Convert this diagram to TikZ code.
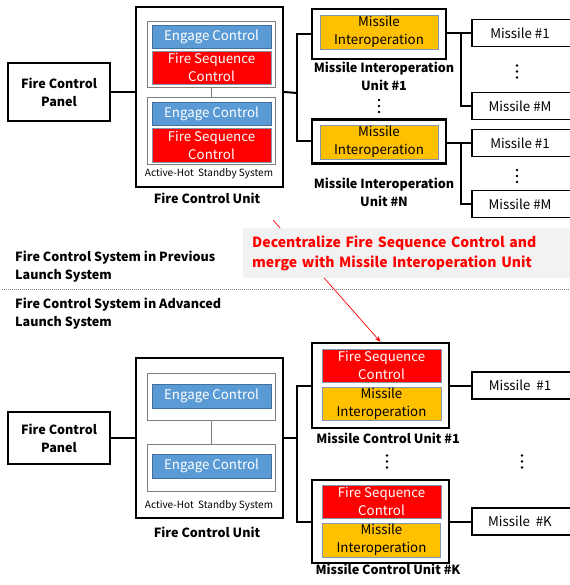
\documentclass[tikz,border=0pt]{standalone}
\usepackage{fontspec}
\setmainfont{Noto Sans CJK KR}
\usetikzlibrary{arrows.meta}

\definecolor{ecblue}{HTML}{5B9BD5}
\definecolor{fsred}{HTML}{FF0000}
\definecolor{miyellow}{HTML}{FFC000}
\definecolor{edgeblue}{HTML}{41719C}
\definecolor{edgegray}{HTML}{8497B0}
\definecolor{notegray}{HTML}{F2F2F2}
\definecolor{framegray}{HTML}{7F7F7F}

\newcommand\ftbody{\fontsize{13.3pt}{18pt}\selectfont}
\newcommand\ftlabel{\fontsize{12.6pt}{18pt}\selectfont\bfseries}
\newcommand\ftsmall{\fontsize{10pt}{12pt}\selectfont}
\newcommand\ftnote{\fontsize{14pt}{20pt}\selectfont\bfseries}

\begin{document}
\begin{tikzpicture}[x=1pt,y=-1pt,
  size/.style n args={2}{minimum width=#1,minimum height=#2},
  unitbox/.style={draw=black,line width=2.2pt,fill=white,inner sep=0pt},
  panelbox/.style={unitbox,line width=2pt,align=center,font=\ftlabel},
  pairbox/.style={draw=framegray,line width=0.9pt,fill=white,inner sep=0pt,size={128pt}{66pt}},
  engage/.style={fill=ecblue,draw=edgeblue,line width=0.5pt,text=white,font=\ftbody,inner sep=0pt,size={119pt}{23pt}},
  fireseq/.style={fill=fsred,draw=edgegray,line width=0.5pt,text=white,font=\ftbody,align=center,inner sep=0pt,size={119pt}{33pt}},
  interop/.style={fill=miyellow,draw=edgegray,line width=0.5pt,text=black,font=\ftbody,align=center,inner sep=0pt,size={118pt}{34pt}},
  missilebox/.style={draw=black,line width=1.8pt,fill=white,font=\ftbody,inner sep=0pt,size={100pt}{27pt}},
  caption/.style={font=\ftlabel,align=center,inner sep=0pt},
  conn/.style={draw=black,line width=2pt},
  vdot/.style={fill=black},
]
\useasboundingbox (0,0) rectangle (569,585);
\fill[white] (0,0) rectangle (569,585);

% ---------------- previous launch system ----------------
\node[panelbox,size={102pt}{58pt}] (panelA) at (59,92) {Fire Control\\Panel};
\node[unitbox,size={147pt}{180pt}] (fcuA) at (209.5,97) {};
\node[pairbox] (pairA1) at (211,54) {};
\node[engage] (ecA1) at (211.5,36.5) {Engage Control};
\node[fireseq] (fsA1) at (211.5,67.5) {Fire Sequence\\Control};
\node[pairbox,size={128pt}{67pt}] (pairA2) at (211,130.5) {};
\node[engage] (ecA2) at (211.5,113.5) {Engage Control};
\node[fireseq,size={119pt}{34pt}] (fsA2) at (211.5,145) {Fire Sequence\\Control};
\draw[draw=framegray,line width=0.9pt] (pairA1.south) -- (pairA2.north);
\node[font=\ftsmall,inner sep=0pt] (hsA) at (209,174) {Active-Hot\ \ Standby\ System};
\node[caption] (fcuAlbl) at (207,198) {Fire Control Unit};

\node[unitbox,line width=2.6pt,size={134pt}{50pt}] (miu1) at (379,34) {};
\node[interop] (mi1) at (379,32) {Missile\\Interoperation};
\node[caption] (miu1lbl) at (384,76) {Missile Interoperation\\Unit \#1};
\node[unitbox,size={134pt}{44pt}] (miuN) at (379,141.5) {};
\node[interop] (miN) at (379,142) {Missile\\Interoperation};
\node[caption] (miuNlbl) at (384,192.5) {Missile Interoperation\\Unit \#N};

\node[missilebox] (m1a) at (522,33) {\hspace*{-4pt}Missile \#1};
\node[missilebox] (mMa) at (522,106) {\hspace*{-4pt}Missile \#M};
\node[missilebox] (m1b) at (522,143) {\hspace*{-4pt}Missile \#1};
\node[missilebox] (mMb) at (522,204) {\hspace*{-4pt}Missile \#M};

\coordinate (brA) at (297,93);
\coordinate (brB) at (461,33);
\coordinate (brN) at (461,143);
\draw[conn] (panelA.east) -- (panelA.east -| fcuA.west);
\draw[conn] (panelA.east -| fcuA.east) -- (brA);
\draw[conn] (miu1.west) -| (brA) |- (miuN.west);
\draw[conn] (miu1.east |- brB) -- (m1a.west);
\draw[conn] (brB) |- (mMa.west);
\draw[conn] (miuN.east |- brN) -- (m1b.west);
\draw[conn] (brN) |- (mMb.west);

\foreach \px/\py in {379/106, 517/71.5, 517/176}
  \foreach \dy in {-6,0,6}
    \fill[vdot] (\px,\py+\dy) circle (1.3);

% ---------------- divider and notes ----------------
\node[font=\ftlabel,align=left,anchor=west,inner sep=0pt] (prevtxt) at (15,266.5)
  {Fire Control System in Previous\\Launch System};
\node[font=\ftlabel,align=left,anchor=west,inner sep=0pt] (advtxt) at (15,313.5)
  {Fire Control System in Advanced\\Launch System};
\coordinate (divL) at (2,289);
\coordinate (divR) at (569,289);
\draw[framegray,line width=0.8pt,dash pattern=on 1.2pt off 0.8pt] (divL) -- (divR);

% ---------------- advanced launch system ----------------
\node[panelbox,size={102pt}{52pt}] (panelB) at (59,438) {Fire Control\\Panel};
\node[unitbox,size={147pt}{160pt}] (fcuB) at (209.5,438) {};
\node[pairbox,size={128pt}{47pt}] (pairB1) at (211,396.5) {};
\node[engage,size={119pt}{24pt}] (ecB1) at (211.5,396) {Engage Control};
\node[pairbox,size={128pt}{47pt}] (pairB2) at (211,467.5) {};
\node[engage,size={119pt}{24pt}] (ecB2) at (211.5,466) {Engage Control};
\draw[draw=framegray,line width=0.9pt] (pairB1.south) -- (pairB2.north);
\node[font=\ftsmall,inner sep=0pt] (hsB) at (209,506) {Active-Hot\ \ Standby\ System};
\node[caption] (fcuBlbl) at (207,532) {Fire Control Unit};

\node[unitbox,size={137pt}{85pt}] (mcu1) at (380.5,385.5) {};
\node[fireseq] (fsC1) at (381.5,365.5) {Fire Sequence\\Control};
\node[interop,size={119pt}{33pt}] (miC1) at (381.5,403.5) {Missile\\Interoperation};
\node[caption] (mcu1lbl) at (388,438) {Missile Control Unit \#1};
\node[unitbox,size={137pt}{83pt}] (mcuK) at (380.5,521.5) {};
\node[fireseq] (fsCK) at (381.5,501.5) {Fire Sequence\\Control};
\node[interop] (miCK) at (381.5,540) {Missile\\Interoperation};
\node[caption] (mcuKlbl) at (388,569) {Missile Control Unit \#K};

\node[missilebox] (m1c) at (522,385.5) {\hspace*{-4pt}Missile\ \ \#1};
\node[missilebox] (mKc) at (522,521.5) {\hspace*{-4pt}Missile\ \ \#K};

\coordinate (brC) at (297,438);
\draw[conn] (panelB.east) -- (fcuB.west);
\draw[conn] (fcuB.east) -- (brC);
\draw[conn] (mcu1.west) -| (brC) |- (mcuK.west);
\draw[conn] (mcu1.east) -- (m1c.west);
\draw[conn] (mcuK.east) -- (mKc.west);

\foreach \px/\py in {387/461.5, 522/461.5}
  \foreach \dy in {-6,0,6}
    \fill[vdot] (\px,\py+\dy) circle (1.3);

% ---------------- migration note with arrow ----------------
\coordinate (arrowfrom) at (273,220);
\draw[fsred,line width=0.7pt,-{Stealth[length=6pt,width=4.5pt]}] (arrowfrom) -- (mcu1.north);
\node[fill=notegray,anchor=west,inner xsep=9pt,inner ysep=0pt,minimum height=50pt,
      text width=310pt,align=left,font=\ftnote,text=fsred] (note) at (243,253)
  {Decentralize Fire Sequence Control and\\merge with Missile Interoperation Unit};
\end{tikzpicture}
\end{document}
